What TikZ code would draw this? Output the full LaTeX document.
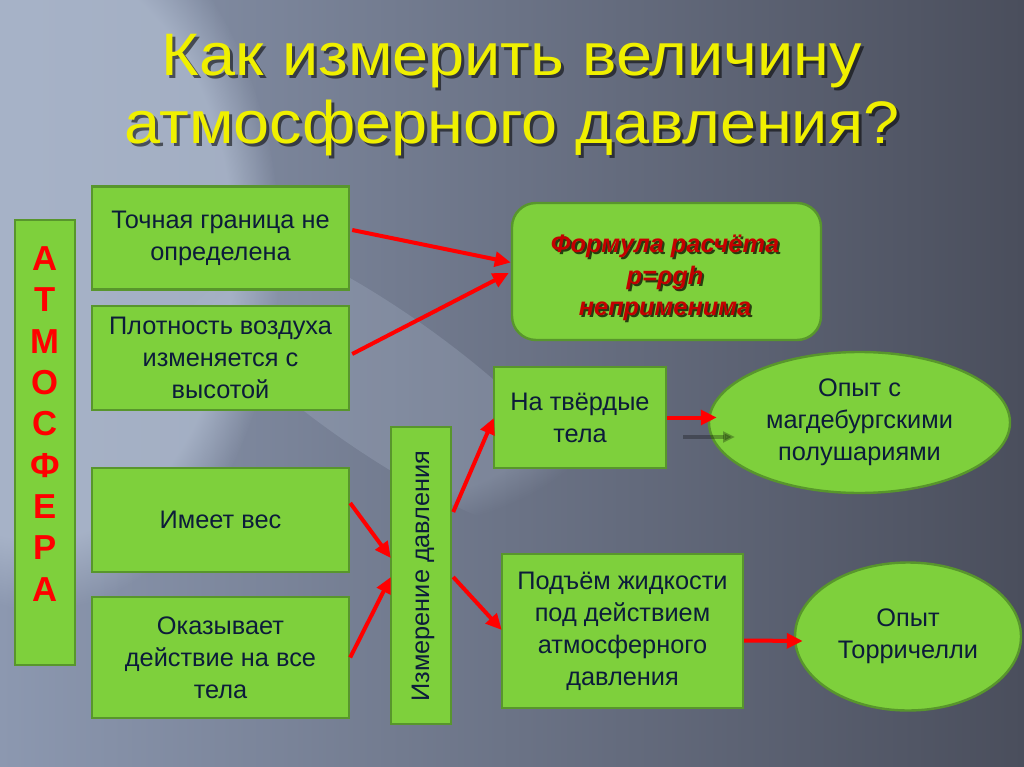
\documentclass[tikz,border=0pt]{standalone}
\usepackage{fontspec}
\setmainfont{Liberation Sans}
\newfontfamily\ttlfam[FakeStretch=1.08]{Liberation Sans}
\usetikzlibrary{arrows.meta,calc,fadings,shapes.geometric}
\definecolor{gfill}{RGB}{126,208,60}
\definecolor{gline}{RGB}{88,150,44}
\definecolor{txt}{RGB}{12,28,58}
\definecolor{ttl}{RGB}{240,240,0}
\definecolor{fred}{RGB}{196,0,0}
\definecolor{bgl}{RGB}{140,152,176}
\definecolor{bgm}{RGB}{98,104,122}
\definecolor{bgr}{RGB}{74,78,92}
\definecolor{bgh}{RGB}{176,188,208}
\def\pxu{0.75pt}
\newcommand\boxfont{\fontsize{19}{24}\selectfont}
\begin{document}
\begin{tikzpicture}[x=0.75pt,y=-0.75pt,
  gbox/.style={draw=gline, fill=gfill, line width=1.8pt, inner sep=0pt,
    align=center, text=txt, font=\boxfont},
  arr/.style={draw=red, line width=3pt, -{Triangle[length=12pt,width=11pt]}},
  garr/.style={draw=black, opacity=0.28, line width=2.5pt, -{Triangle[length=9pt,width=8pt]}},
  ttlfont/.style={font=\ttlfam\fontsize{45}{51}\selectfont, align=center},
  fmfont/.style={font=\fontsize{19}{23.5}\selectfont\bfseries\itshape, align=center}
]
\useasboundingbox (0,0) rectangle (1024,767);
% background
\shade[left color=bgl, middle color=bgm, right color=bgr] (0,0) rectangle (1024,767);
\fill[bgh, path fading=circle with fuzzy edge 20 percent, fill opacity=0.75] (40,250) ellipse (240 and 360);
\fill[bgh, path fading=circle with fuzzy edge 20 percent, fill opacity=0.25, rotate around={-35:(380,380)}] (380,380) ellipse (260 and 70);
% title
\node[ttlfont, text=black, opacity=0.55] (titlesh) at (515,98) {Как измерить величину\\атмосферного давления?};
\node[ttlfont, text=ttl] (title) at (512,95) {Как измерить величину\\атмосферного давления?};
% left column
\node[gbox, minimum width=60*\pxu, minimum height=445*\pxu] (atm) at (45,442.5) {};
\node[text=red, font=\fontsize{26}{31}\selectfont\bfseries, align=center, inner sep=0pt] (atmt) at (45,424)
  {А\\Т\\М\\О\\С\\Ф\\Е\\Р\\А};
\node[gbox, minimum width=257*\pxu, minimum height=103*\pxu] (b1) at (220.5,238) {Точная граница не\\определена};
\node[gbox, minimum width=257*\pxu, minimum height=104*\pxu] (b2) at (220.5,358) {Плотность воздуха\\изменяется с\\высотой};
\node[gbox, minimum width=257*\pxu, minimum height=104*\pxu] (b3) at (220.5,520) {Имеет вес};
\node[gbox, minimum width=257*\pxu, minimum height=121*\pxu] (b4) at (220.5,657.5) {Оказывает\\действие на все\\тела};
% formula
\node[gbox, rounded corners=18pt, minimum width=309*\pxu, minimum height=137*\pxu] (fm) at (666.5,271.5) {};
\node[fmfont, text=black, opacity=0.7] (fmsh) at (667,280) {Формула расчёта\\p=ρgh\\неприменима};
\node[fmfont, text=fred] (fmt) at (665,278) {Формула расчёта\\p=ρgh\\неприменима};
% measurement
\node[gbox, minimum width=60*\pxu, minimum height=297*\pxu] (ms) at (421,575.5) {};
\node[text=txt, font=\boxfont, rotate=90, inner sep=0pt] (mst) at (423,576) {Измерение давления};
% right
\node[gbox, minimum width=172*\pxu, minimum height=101*\pxu] (tv) at (580,417.5) {На твёрдые\\тела};
\node[gbox, minimum width=241*\pxu, minimum height=154*\pxu] (pd) at (622.5,631) {Подъём жидкости\\под действием\\атмосферного\\давления};
\node[gbox, ellipse, minimum width=301*\pxu, minimum height=141*\pxu] (e1) at (859.5,422.5) {Опыт с\\магдебургскими\\полушариями};
\node[gbox, ellipse, minimum width=226*\pxu, minimum height=148*\pxu] (e2) at (908,636.5) {Опыт\\Торричелли};
% connectors
\draw[arr] ($(b1.east)+(2,-8)$) -- ($(fm.west)+(0,-9)$);
\draw[arr] ($(b2.east)+(2,-4)$) -- ($(fm.west)+(-2,1.5)$);
\draw[arr] ($(b3.east)+(0,-17)$) -- ($(ms.west)+(1,-17.5)$);
\draw[arr] ($(b4.east)+(0,0)$) -- ($(ms.west)+(1,1.5)$);
\draw[arr] ($(ms.east)+(1,-63.5)$) -- ($(tv.west)+(1,0.5)$);
\draw[arr] ($(ms.east)+(1,1.5)$) -- ($(pd.west)+(1,-1)$);
\draw[arr] (tv.east) -- ($(tv.east -| e1.west)+(9,0)$);
\draw[arr] ($(pd.east)+(0,9.5)$) -- ($(e2.west)+(9,4.5)$);
\coordinate (ga1) at (683,437);
\coordinate (ga2) at (735,437);
\draw[garr] (ga1) -- (ga2);
\end{tikzpicture}
\end{document}
